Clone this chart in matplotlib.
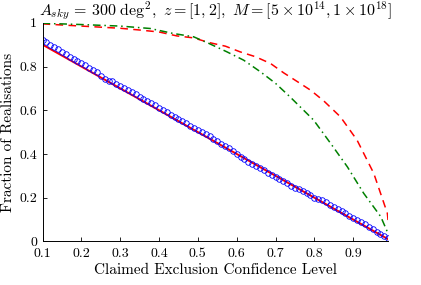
import numpy as np
import matplotlib
matplotlib.use('Agg')
import matplotlib.pyplot as plt

plt.rcParams['font.family'] = 'serif'
plt.rcParams['font.serif'] = ['cmr10']
plt.rcParams['mathtext.fontset'] = 'cm'
plt.rcParams['axes.formatter.use_mathtext'] = True

# blue circles: measured fraction
conf_blue = np.round(np.arange(0.10, 0.995, 0.01), 2)
frac_blue = [0.922, 0.910, 0.900, 0.888, 0.878, 0.867, 0.855, 0.845, 0.835, 0.825,
             0.815, 0.805, 0.795, 0.785, 0.775, 0.757, 0.742, 0.735, 0.732, 0.722,
             0.712, 0.702, 0.692, 0.682, 0.672, 0.662, 0.652, 0.642, 0.632, 0.622,
             0.612, 0.600, 0.590, 0.580, 0.570, 0.560, 0.550, 0.540, 0.530, 0.520,
             0.510, 0.500, 0.490, 0.480, 0.470, 0.460, 0.445, 0.435, 0.425, 0.415,
             0.402, 0.387, 0.375, 0.365, 0.355, 0.345, 0.335, 0.325, 0.315, 0.305,
             0.295, 0.285, 0.275, 0.265, 0.255, 0.245, 0.238, 0.230, 0.220, 0.210,
             0.200, 0.196, 0.188, 0.178, 0.168, 0.158, 0.148, 0.138, 0.128, 0.118,
             0.108, 0.098, 0.088, 0.078, 0.068, 0.058, 0.045, 0.035, 0.025, 0.014]

# red solid: expected
conf_expected = [0.10, 0.99]
frac_expected = [0.90, 0.01]

# red dashed
conf_red = [0.10, 0.20, 0.30, 0.35, 0.40, 0.446, 0.489, 0.528, 0.571, 0.609, 0.648,
            0.687, 0.721, 0.757, 0.79, 0.824, 0.867, 0.91, 0.953, 0.988, 0.99]
frac_red = [0.995, 0.985, 0.975, 0.967, 0.958, 0.940, 0.931, 0.910, 0.893, 0.867,
            0.845, 0.814, 0.771, 0.730, 0.692, 0.643, 0.570, 0.463, 0.311, 0.128, 0.09]

# green dash-dot
conf_green = [0.10, 0.20, 0.30, 0.377, 0.437, 0.489, 0.528, 0.575, 0.618, 0.661,
              0.70, 0.738, 0.798, 0.842, 0.885, 0.927, 0.971, 0.99]
frac_green = [0.998, 0.992, 0.985, 0.974, 0.951, 0.936, 0.906, 0.867, 0.829, 0.776,
              0.723, 0.660, 0.555, 0.448, 0.341, 0.220, 0.113, 0.035]

fig = plt.figure(figsize=(4.21, 2.85), dpi=100)
ax = fig.add_axes([0.101, 0.153, 0.821, 0.767])

ax.plot(conf_expected, frac_expected, color='red', lw=1.4)
ax.plot(conf_red, frac_red, color='red', lw=1.1, ls=(0, (5, 3.5)))
ax.plot(conf_green, frac_green, color='green', lw=1.1, ls=(0, (5, 2.5, 1, 2.5)))
ax.plot(conf_blue, frac_blue, 'o', mfc='none', mec='blue', ms=4, mew=0.6)

ax.set_xlim(0.1, 0.99)
ax.set_ylim(0, 1)
ax.set_xticks([0.1, 0.2, 0.3, 0.4, 0.5, 0.6, 0.7, 0.8, 0.9])
ax.set_xticklabels(['0.1', '0.2', '0.3', '0.4', '0.5', '0.6', '0.7', '0.8', '0.9'])
ax.set_yticks([0, 0.2, 0.4, 0.6, 0.8, 1])
ax.set_yticklabels(['0', '0.2', '0.4', '0.6', '0.8', '1'])
ax.tick_params(direction='in', length=3, width=0.6, labelsize=10)
ax.tick_params(axis='x', pad=5)
ax.tick_params(axis='y', pad=4)
ax.spines['top'].set_visible(False)
ax.spines['right'].set_visible(False)
for s in ['left', 'bottom']:
    ax.spines[s].set_linewidth(0.7)

ax.set_xlabel('Claimed Exclusion Confidence Level', fontsize=11, labelpad=2)
ax.set_ylabel('Fraction of Realisations', fontsize=11, labelpad=3)
ax.set_title(r'$A_{sky}\,=\,300\ \mathrm{deg}^2,\ z = [1, 2],\ M = [5 \times 10^{14}, 1 \times 10^{18}]$',
             fontsize=11.5, pad=4)

fig.savefig('out.png', dpi=100)
